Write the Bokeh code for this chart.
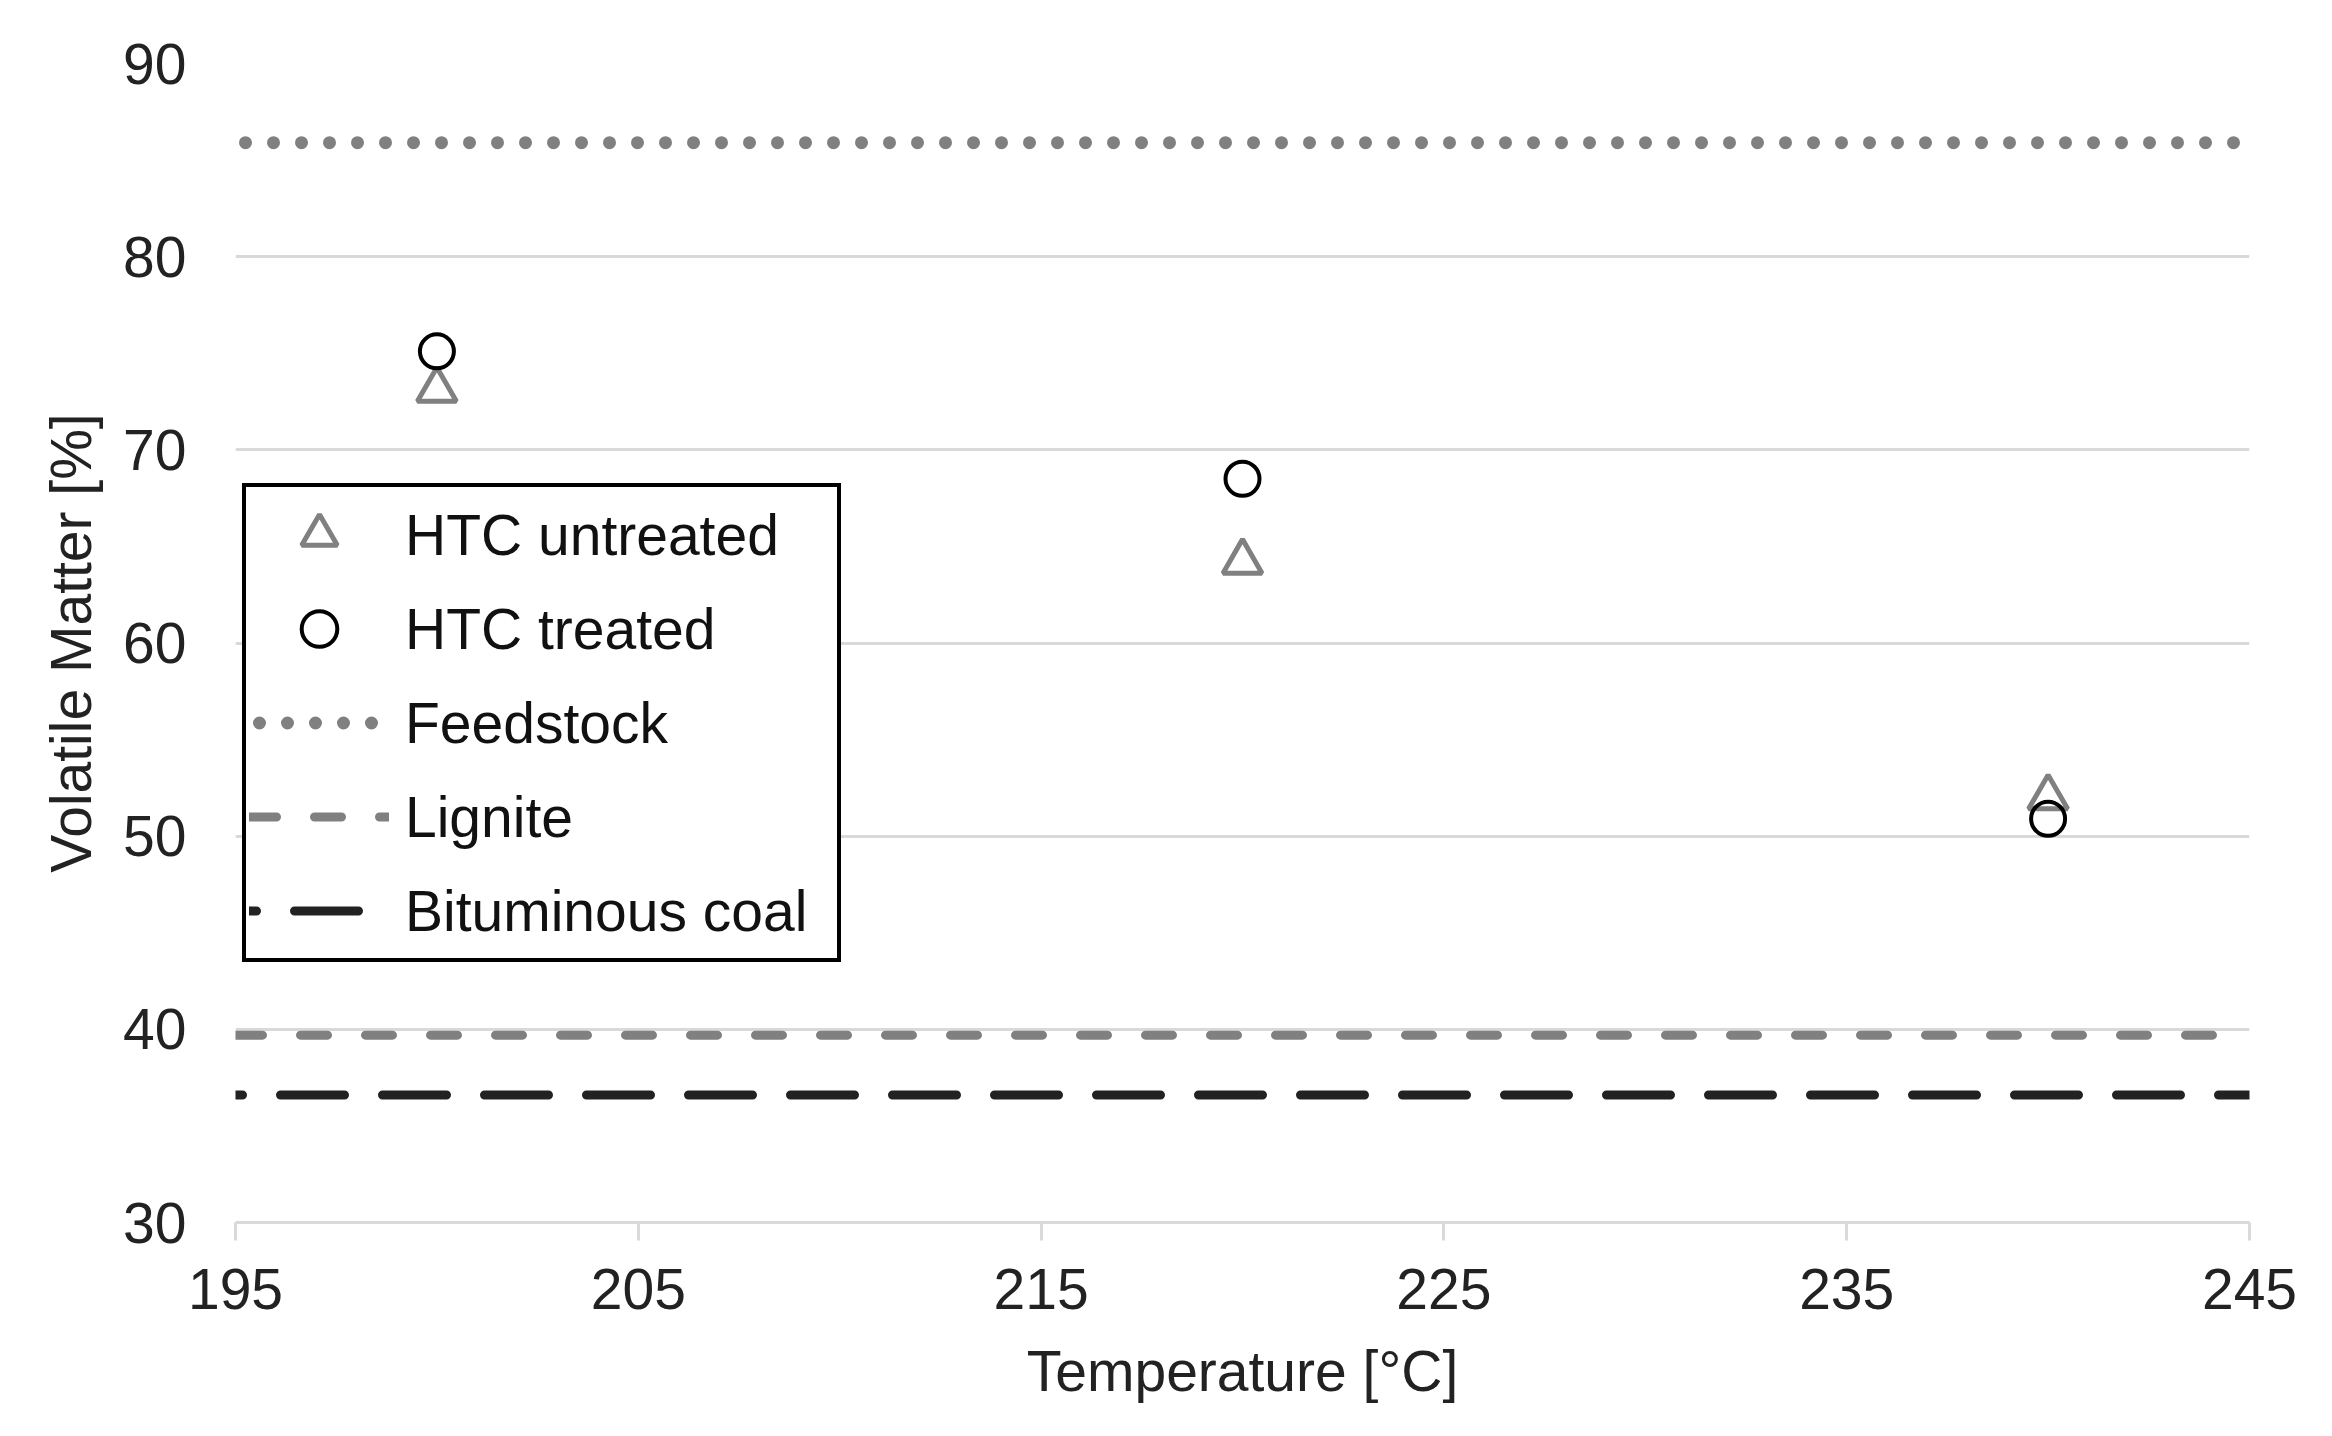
from bokeh.plotting import figure
from bokeh.models import Range1d, FixedTicker, Legend, LegendItem
from bokeh.embed import file_html
from bokeh.resources import INLINE

# ---- data ----
temperature = [200, 220, 240]
htc_untreated = [73.1, 64.2, 52.0]
htc_treated = [75.1, 68.5, 50.9]
x_span = [195, 245]
feedstock_level = [85.9, 85.9]
lignite_level = [39.7, 39.7]
bituminous_level = [36.6, 36.6]
x_ticks = [195, 205, 215, 225, 235, 245]
y_ticks = [30, 40, 50, 60, 70, 80, 90]

FONT = "Liberation Sans"
TXT = "#222222"
GRID = "#d9d9d9"

p = figure(width=2316, height=1420,
           x_range=Range1d(195, 245), y_range=Range1d(30, 90),
           output_backend="svg", toolbar_location=None,
           min_border_left=235, min_border_right=67,
           min_border_top=63, min_border_bottom=198)
p.outline_line_color = None
p.background_fill_color = "white"
p.border_fill_color = "white"

# grid
p.xgrid.visible = False
p.ygrid.grid_line_color = GRID
p.ygrid.grid_line_width = 3

# y axis
p.yaxis.ticker = FixedTicker(ticks=y_ticks)
p.yaxis.axis_line_color = None
p.yaxis.major_tick_line_color = None
p.yaxis.minor_tick_line_color = None
p.yaxis.major_tick_out = 0
p.yaxis.major_tick_in = 0
p.yaxis.major_label_standoff = 49
p.yaxis.major_label_text_font = FONT
p.yaxis.major_label_text_font_size = "57px"
p.yaxis.major_label_text_color = TXT
p.yaxis.axis_label = "Volatile Matter [%]"
p.yaxis.axis_label_text_font = FONT
p.yaxis.axis_label_text_font_size = "57px"
p.yaxis.axis_label_text_font_style = "normal"
p.yaxis.axis_label_text_color = TXT
p.yaxis.axis_label_standoff = 17

# x axis
p.xaxis.ticker = FixedTicker(ticks=x_ticks)
p.xaxis.axis_line_color = GRID
p.xaxis.axis_line_width = 3
p.xaxis.major_tick_line_color = GRID
p.xaxis.major_tick_line_width = 3
p.xaxis.major_tick_out = 18
p.xaxis.major_tick_in = 0
p.xaxis.minor_tick_line_color = None
p.xaxis.major_label_standoff = 28
p.xaxis.major_label_text_font = FONT
p.xaxis.major_label_text_font_size = "57px"
p.xaxis.major_label_text_color = TXT
p.xaxis.axis_label = "Temperature [°C]"
p.xaxis.axis_label_text_font = FONT
p.xaxis.axis_label_text_font_size = "57px"
p.xaxis.axis_label_text_font_style = "normal"
p.xaxis.axis_label_text_color = TXT
p.xaxis.axis_label_standoff = 27

# reference lines
r_bit = p.line(x_span, bituminous_level, line_color="#222222", line_width=9,
               line_dash="64 38", line_dash_offset=57, line_cap="round")
r_lig = p.line(x_span, lignite_level, line_color="#808080", line_width=9,
               line_dash="27 38", line_cap="round")
r_feed = p.line(x_span, feedstock_level, line_color="#808080", line_width=13,
                line_dash="0 28", line_dash_offset=18, line_cap="round")

# markers
r_un = p.scatter(temperature, htc_untreated, marker="triangle", size=39,
                 fill_color=None, line_color="#808080", line_width=5)
r_tr = p.scatter(temperature, htc_treated, marker="circle", size=34,
                 fill_color=None, line_color="black", line_width=4)

legend = Legend(items=[
    LegendItem(label="HTC untreated", renderers=[r_un]),
    LegendItem(label="HTC treated", renderers=[r_tr]),
    LegendItem(label="Feedstock", renderers=[r_feed]),
    LegendItem(label="Lignite", renderers=[r_lig]),
    LegendItem(label="Bituminous coal", renderers=[r_bit]),
], location=(7, 260), padding=3, spacing=5, margin=0,
    glyph_height=89, glyph_width=140, label_standoff=16,
    label_width=429, label_height=89,
    label_text_font=FONT, label_text_font_size="57px", label_text_color="#111111",
    border_line_color="black", border_line_width=4, border_line_alpha=1.0,
    background_fill_color="white", background_fill_alpha=1.0)
p.add_layout(legend)

open("out.html", "w").write(file_html(p, INLINE))
